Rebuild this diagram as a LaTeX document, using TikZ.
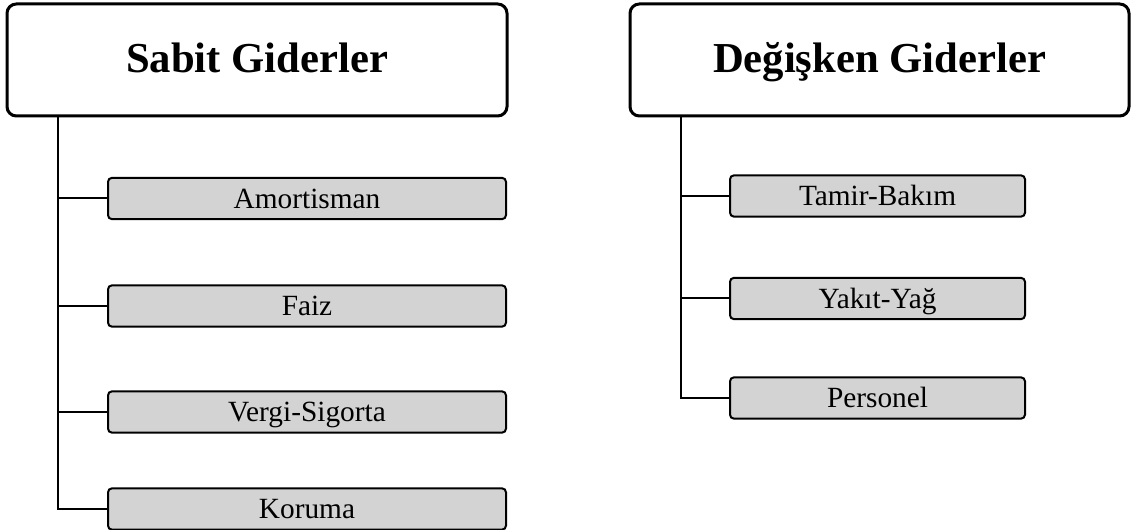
\documentclass[tikz,border=0pt]{standalone}
\usepackage{fontspec}
\setmainfont{Liberation Serif}
\begin{document}
\begin{tikzpicture}[x=0.75pt,y=-0.75pt,
  headbox/.style={draw, line width=2.25pt, rounded corners=7pt, fill=white,
    minimum height=84pt, inner sep=0pt, text height=21.6pt, text depth=3pt,
    font=\fontsize{32}{38}\selectfont\bfseries},
  itembox/.style={draw, line width=1.5pt, rounded corners=3pt, fill=boxgray,
    minimum height=31pt, inner sep=0pt, text height=14.6pt, text depth=0pt,
    font=\fontsize{22}{26}\selectfont},
  conn/.style={line width=1.5pt}]
\definecolor{boxgray}{HTML}{D3D3D3}
\useasboundingbox (0,0) rectangle (1138,530);
% left column
\node[headbox, minimum width=375pt] (hL) at (257,60) {Sabit Giderler};
\coordinate (tL) at (58,116);
\node[itembox, minimum width=298.5pt] (a1) at (307,198.5) {Amortisman};
\node[itembox, minimum width=298.5pt] (a2) at (307,306) {Faiz};
\node[itembox, minimum width=298.5pt] (a3) at (307,412) {Vergi-Sigorta};
\node[itembox, minimum width=298.5pt] (a4) at (307,509) {Koruma};
\draw[conn] (tL) |- (a4.west);
\draw[conn] (tL) |- (a1.west);
\draw[conn] (tL) |- (a2.west);
\draw[conn] (tL) |- (a3.west);
% right column
\node[headbox, minimum width=374.25pt] (hR) at (879.5,60) {Değişken Giderler};
\coordinate (tR) at (681,116);
\node[itembox, minimum width=221.25pt] (b1) at (877.5,196) {Tamir-Bakım};
\node[itembox, minimum width=221.25pt] (b2) at (877.5,298.5) {Yakıt-Yağ};
\node[itembox, minimum width=221.25pt] (b3) at (877.5,398) {Personel};
\draw[conn] (tR) |- (b3.west);
\draw[conn] (tR) |- (b1.west);
\draw[conn] (tR) |- (b2.west);
\end{tikzpicture}
\end{document}
